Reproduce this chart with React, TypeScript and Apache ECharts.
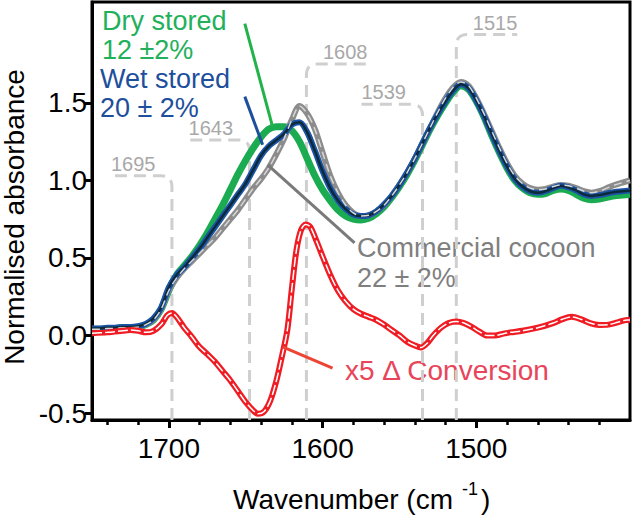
import React, { useEffect, useRef } from "react";
import * as echarts from "echarts";

const FONT = '"Liberation Sans", Arial, Helvetica, sans-serif';

// Wavenumber grid (cm-1) for the three absorbance spectra
const wavenumbers = [1750,1745,1740,1735,1730,1725,1720,1715,1710,1705,1700,1695,1690,1685,1680,1675,1670,1665,1660,1655,1650,1645,1640,1635,1630,1625,1620,1615,1610,1605,1600,1595,1590,1585,1580,1575,1570,1565,1560,1555,1550,1545,1540,1535,1530,1525,1520,1515,1510,1505,1500,1495,1490,1485,1480,1475,1470,1465,1460,1455,1450,1445,1440,1435,1430,1425,1420,1415,1410,1405,1400];

const dryStored = [0.04,0.04,0.045,0.045,0.05,0.05,0.055,0.07,0.10,0.17,0.29,
  0.39,0.45,0.51,0.58,0.66,0.75,0.84,0.94,1.04,1.13,
  1.21,1.28,1.33,1.345,1.345,1.32,1.25,1.14,1.03,0.94,
  0.87,0.81,0.77,0.75,0.745,0.755,0.785,0.83,0.89,0.96,
  1.04,1.13,1.23,1.33,1.42,1.50,1.57,1.61,1.585,1.51,
  1.41,1.29,1.18,1.08,1.00,0.95,0.92,0.91,0.915,0.935,
  0.945,0.935,0.91,0.885,0.875,0.88,0.89,0.90,0.905,0.91];

const wetStored = [0.045,0.045,0.05,0.05,0.055,0.055,0.06,0.075,0.11,0.18,0.31,
  0.39,0.44,0.50,0.56,0.63,0.70,0.77,0.84,0.91,0.98,
  1.07,1.16,1.22,1.26,1.30,1.36,1.375,1.31,1.19,1.06,
  0.95,0.87,0.815,0.78,0.77,0.775,0.80,0.845,0.90,0.97,
  1.05,1.14,1.24,1.34,1.43,1.51,1.58,1.62,1.595,1.515,
  1.415,1.30,1.19,1.09,1.01,0.96,0.93,0.92,0.93,0.95,
  0.965,0.955,0.935,0.91,0.90,0.905,0.915,0.925,0.93,0.935];

const commercialCocoon = [0.04,0.04,0.045,0.045,0.05,0.05,0.055,0.07,0.10,0.17,0.29,
  0.37,0.43,0.48,0.53,0.58,0.63,0.69,0.75,0.81,0.88,
  0.95,1.01,1.08,1.17,1.27,1.39,1.48,1.43,1.33,1.18,
  1.03,0.92,0.84,0.79,0.77,0.775,0.80,0.84,0.90,0.97,
  1.05,1.14,1.24,1.34,1.44,1.53,1.60,1.635,1.61,1.53,
  1.43,1.32,1.21,1.11,1.03,0.98,0.95,0.94,0.945,0.96,
  0.97,0.965,0.95,0.93,0.92,0.93,0.95,0.97,0.985,1.0];

// x5 difference spectrum (conversion)
const conversionWavenumbers = [1750,1740,1730,1725,1720,1715,1710,1705,1701,1698,1695,1690,1685,1680,1675,1670,1665,1660,1655,1650,1645,1642,1638,1634,1630,1627,1623,1620,1617,1614,1611,1608,1604,1600,1595,1590,1585,1580,1575,1570,1565,1560,1555,1550,1545,1540,1536,1532,1528,1523,1518,1513,1508,1503,1498,1493,1488,1483,1478,1470,1460,1450,1444,1438,1432,1426,1420,1414,1408,1402,1400];
const conversionX5 = [0.015,0.02,0.03,0.035,0.03,0.02,0.03,0.07,0.13,0.145,0.12,0.05,-0.01,-0.075,-0.12,-0.17,-0.23,-0.29,-0.36,-0.43,-0.485,-0.505,-0.49,-0.42,-0.29,-0.16,0.03,0.30,0.55,0.68,0.715,0.70,0.61,0.51,0.39,0.29,0.22,0.17,0.14,0.12,0.10,0.07,0.035,0.0,-0.04,-0.065,-0.078,-0.05,0.0,0.05,0.08,0.09,0.08,0.055,0.025,0.0,0.0,0.01,0.02,0.03,0.05,0.08,0.105,0.12,0.105,0.08,0.068,0.07,0.085,0.10,0.10];

const xMajorTicks = [1700, 1600, 1500];
const xMinorTicks = [1740, 1720, 1680, 1660, 1640, 1620, 1580, 1560, 1540, 1520, 1480, 1460, 1440, 1420];
const yTicks = [-0.5, 0, 0.5, 1.0, 1.5];
const X_MIN = 1400, X_MAX = 1750, Y_MIN = -0.545, Y_MAX = 2.15;

// Peak markers
const peakLabels = ["1695", "1643", "1608", "1539", "1515"];
const peakLineWn = [1698, 1647.5, 1610.5, 1535, 1513];
const peakLabelLevel = [1.03, 1.26, 1.75, 1.49, 1.94];
const peakLabelSide = [-1, -1, 1, -1, 1];

// Leader lines [wn1, y1, wn2, y2]
const leaderLines = [
  [1650.6, 2.01, 1632.5, 1.345],
  [1650.6, 1.54, 1639, 1.229],
  [1635.7, 1.10, 1579.2, 0.597],
  [1626, -0.074, 1593.5, -0.21],
];
const leaderColors = ["#22b24a", "#1d4f9c", "#7a7a7a", "#ee4433"];

const pairs = (xs: number[], ys: number[]) => xs.map((x, i) => [x, ys[i]]);

function txt(x: number, y: number, text: string, fill: string, size: number, align = "left", extra: any = {}) {
  return {
    type: "text",
    x,
    y,
    ...extra,
    style: {
      text,
      fill,
      font: `${size}px ${FONT}`,
      align,
      textAlign: align,
      verticalAlign: "middle",
      textVerticalAlign: "middle",
    },
  };
}

export default function App() {
  const ref = useRef<HTMLDivElement>(null);
  useEffect(() => {
    if (!ref.current) return;
    const chart = echarts.init(ref.current, null, { renderer: "svg" });
    const lineBase = { type: "line", showSymbol: false, symbol: "none", smooth: 0.3, silent: true };
    const option: any = {
      animation: false,
      backgroundColor: "#fff",
      grid: { left: 92, right: 5, top: 2, bottom: 96, show: true, borderColor: "#000", borderWidth: 3, backgroundColor: "transparent" },
      xAxis: [
        {
          type: "value", min: X_MIN, max: X_MAX, inverse: true, position: "bottom",
          axisLine: { show: true, onZero: false, lineStyle: { color: "#000", width: 3 } },
          axisTick: { show: true, customValues: xMajorTicks, length: 8, lineStyle: { color: "#000", width: 3 } },
          axisLabel: { customValues: xMajorTicks, color: "#000", fontSize: 28, fontFamily: FONT, margin: 14, formatter: (v: number) => String(v) },
          splitLine: { show: false },
        },
        {
          type: "value", min: X_MIN, max: X_MAX, inverse: true, position: "bottom",
          axisLine: { show: false, onZero: false },
          axisTick: { show: true, customValues: xMinorTicks, length: 5, lineStyle: { color: "#000", width: 2.5 } },
          axisLabel: { show: false },
          splitLine: { show: false },
        },
      ],
      yAxis: {
        type: "value", min: Y_MIN, max: Y_MAX,
        axisLine: { show: true, onZero: false, lineStyle: { color: "#000", width: 3 } },
        axisTick: { show: true, customValues: yTicks, length: 7, lineStyle: { color: "#000", width: 3 } },
        axisLabel: { customValues: yTicks, color: "#000", fontSize: 28, fontFamily: FONT, margin: 5, formatter: (v: number) => v.toFixed(1) },
        splitLine: { show: false },
      },
      series: [
        {
          type: "custom", name: "peaks", z: 1, clip: false, silent: true,
          data: peakLineWn.map((w, i) => [w, peakLabelLevel[i], peakLabelSide[i]]),
          encode: { x: 0, y: 1 },
          renderItem: (params: any, api: any) => {
            const wn = api.value(0), lvl = api.value(1), side = api.value(2);
            const p = api.coord([wn, lvl]);
            const b = api.coord([wn, Y_MIN]);
            const x = p[0], y = p[1], r = 11, L = 61;
            const ex = x + side * L;
            const d = `M${x},${b[1]} L${x},${y + r} Q${x},${y} ${x + side * r},${y} L${ex},${y}`;
            const align = side < 0 ? "left" : "right";
            return {
              type: "group",
              children: [
                { type: "path", shape: { pathData: d }, style: { fill: "none", stroke: "#cfcfcf", lineWidth: 3, lineDash: [12, 7] } },
                { type: "text", x: ex, y: y - 2, style: { text: peakLabels[params.dataIndex], fill: "#a8a8a8", font: `20px ${FONT}`, align, textAlign: align, verticalAlign: "bottom", textVerticalAlign: "bottom" } },
              ],
            };
          },
        },
        { ...lineBase, name: "Dry stored", z: 2, data: pairs(wavenumbers, dryStored), lineStyle: { color: "#1bab50", width: 7 } },
        { ...lineBase, name: "Commercial cocoon", z: 3, data: pairs(wavenumbers, commercialCocoon), lineStyle: { color: "#8c8c8c", width: 6 } },
        { ...lineBase, name: "Wet stored", z: 4, data: pairs(wavenumbers, wetStored), lineStyle: { color: "#1b54a6", width: 6 } },
        { ...lineBase, name: "Wet stored core", z: 5, data: pairs(wavenumbers, wetStored), lineStyle: { color: "#0d2a3a", width: 2.5 } },
        { ...lineBase, name: "Commercial centre", z: 6, data: pairs(wavenumbers, commercialCocoon), lineStyle: { color: "#d8d8d8", width: 1.5, type: [8, 5] } },
        { ...lineBase, name: "x5 Conversion", z: 7, data: pairs(conversionWavenumbers, conversionX5), lineStyle: { color: "#f01c24", width: 6 } },
        { ...lineBase, name: "x5 Conversion centre", z: 8, data: pairs(conversionWavenumbers, conversionX5), lineStyle: { color: "#ffffff", width: 1.5, type: [10, 3] } },
        {
          type: "custom", name: "leaders", z: 9, clip: false, silent: true,
          data: leaderLines,
          encode: { x: [0, 2], y: [1, 3] },
          renderItem: (params: any, api: any) => {
            const a = api.coord([api.value(0), api.value(1)]);
            const c = api.coord([api.value(2), api.value(3)]);
            return { type: "line", shape: { x1: a[0], y1: a[1], x2: c[0], y2: c[1] }, style: { stroke: leaderColors[params.dataIndex], lineWidth: 3 } };
          },
        },
      ],
      graphic: [
        txt(102, 21, "Dry stored", "#22b05a", 27),
        txt(102, 50, "12 ±2%", "#22b05a", 27),
        txt(100, 79, "Wet stored", "#1d4f9c", 27),
        txt(100, 108, "20 ± 2%", "#1d4f9c", 27),
        txt(357, 248, "Commercial cocoon", "#7f7f7f", 27),
        txt(357, 278, "22 ± 2%", "#7f7f7f", 27),
        txt(345, 370, "x5 Δ Conversion", "#e8455a", 28),
        txt(14, 217, "Normalised absorbance", "#000", 28, "center", { rotation: Math.PI / 2 }),
        txt(453, 499, "Wavenumber (cm", "#000", 28, "right"),
        txt(462, 489, "-1", "#000", 18, "left"),
        txt(481, 499, ")", "#000", 28, "left"),
      ],
    };
    chart.setOption(option);
    return () => chart.dispose();
  }, []);
  return <div ref={ref} style={{ position: "fixed", left: 0, top: 0, width: 635, height: 516, background: "#fff" }} />;
}
